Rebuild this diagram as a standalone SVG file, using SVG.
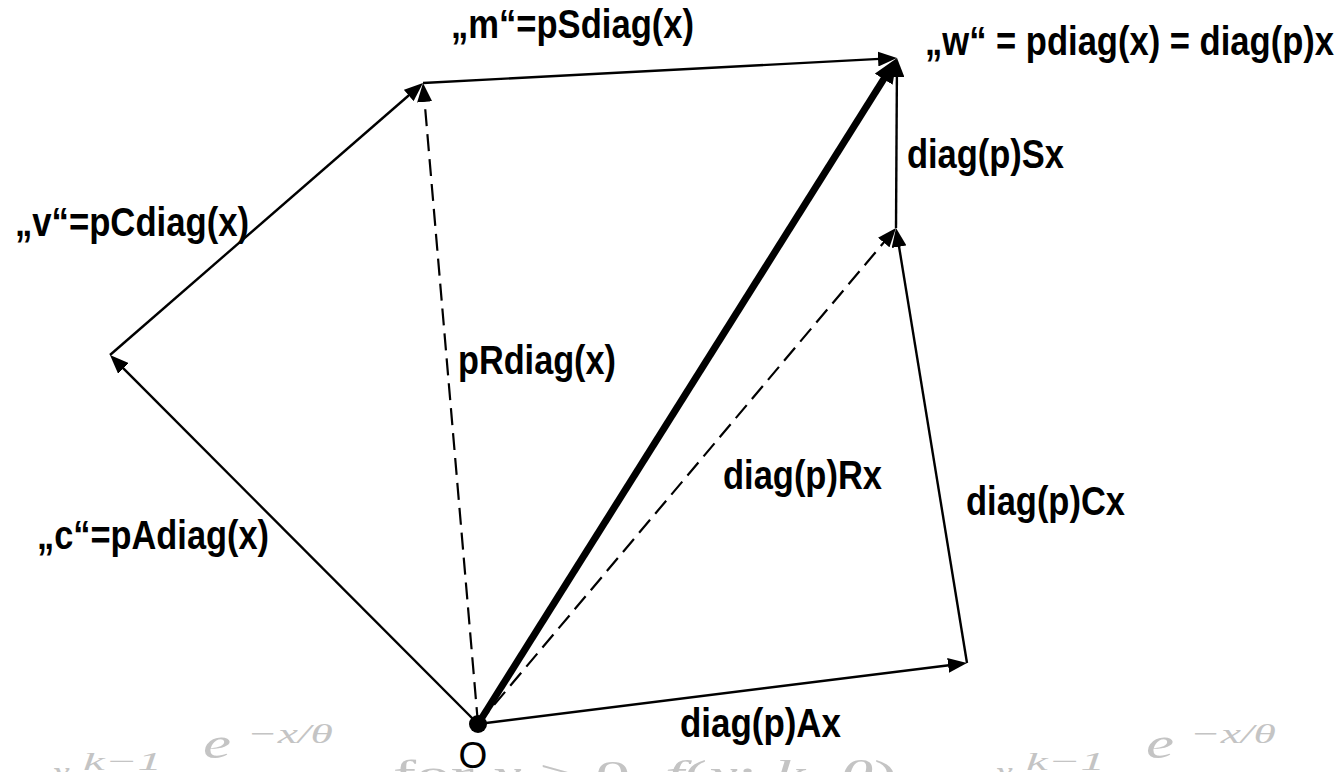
<svg xmlns="http://www.w3.org/2000/svg" width="1341" height="772" viewBox="0 0 1341 772">
<style>
.lbl{font-family:"Liberation Sans Narrow","Liberation Sans","Arial",sans-serif;font-size:41px;font-weight:bold;fill:#000}
.lblO{font-family:"Liberation Sans","Arial",sans-serif;font-size:37px;font-weight:normal;fill:#000}
.ln{stroke:#000;stroke-width:2.4;fill:none}
.dash{stroke:#000;stroke-width:2.2;fill:none;stroke-dasharray:17 8}
.thick{stroke:#000;stroke-width:7;fill:none}
.ghost{font-family:"Liberation Serif","Times New Roman",serif;fill:#c4c4c4}
.it{font-style:italic}
</style>
<defs>
<marker id="ah" viewBox="0 0 19 15" refX="11" refY="7.5" markerWidth="19" markerHeight="15" markerUnits="userSpaceOnUse" orient="auto"><path d="M0,0 L19,7.5 L0,15 z" fill="#000"/></marker>
<marker id="ahT" viewBox="0 0 25 21" refX="13" refY="10.5" markerWidth="25" markerHeight="21" markerUnits="userSpaceOnUse" orient="auto"><path d="M0,0 L25,10.5 L0,21 z" fill="#000"/></marker>
</defs>
<rect width="1341" height="772" fill="#fff"/>
<g id="ghost">
<text class="ghost it" x="52" y="787" font-size="40">x</text>
<text class="ghost it" x="83" y="770" font-size="26" textLength="79" lengthAdjust="spacingAndGlyphs">k−1</text>
<text class="ghost it" x="203" y="758" font-size="44" textLength="28" lengthAdjust="spacingAndGlyphs">e</text>
<text class="ghost it" x="247" y="743" font-size="28" textLength="86" lengthAdjust="spacingAndGlyphs">−x/θ</text>
<text class="ghost" x="393" y="788" font-size="40" textLength="504" lengthAdjust="spacingAndGlyphs">for <tspan class="it">x</tspan> &gt; 0, <tspan class="it">f</tspan>(<tspan class="it">x</tspan>; <tspan class="it">k</tspan>, <tspan class="it">θ</tspan>)</text>
<text class="ghost it" x="995" y="787" font-size="40">x</text>
<text class="ghost it" x="1026" y="770" font-size="26" textLength="79" lengthAdjust="spacingAndGlyphs">k−1</text>
<text class="ghost it" x="1146" y="758" font-size="44" textLength="28" lengthAdjust="spacingAndGlyphs">e</text>
<text class="ghost it" x="1190" y="743" font-size="28" textLength="86" lengthAdjust="spacingAndGlyphs">−x/θ</text>
</g>
<g id="connectors">
<line class="ln" x1="478" y1="724" x2="959.06" y2="663.99" marker-end="url(#ah)"/>
<line class="ln" x1="478" y1="724" x2="115.65" y2="360.66" marker-end="url(#ah)"/>
<line class="ln" x1="110" y1="355" x2="416.96" y2="88.25" marker-end="url(#ah)"/>
<line class="ln" x1="423" y1="83" x2="889.01" y2="58.42" marker-end="url(#ah)"/>
<line class="ln" x1="967" y1="663" x2="897.29" y2="235.9" marker-end="url(#ah)"/>
<line class="ln" x1="896" y1="228" x2="896.95" y2="66" marker-end="url(#ah)"/>
<line class="dash" x1="478" y1="724" x2="423.68" y2="90.97" marker-end="url(#ah)"/>
<line class="dash" x1="478" y1="724" x2="890.84" y2="234.12" marker-end="url(#ah)"/>
<line class="thick" x1="478" y1="724" x2="890.61" y2="68.16" marker-end="url(#ahT)"/>
</g>
<g id="node-O"><circle cx="478" cy="724" r="9" fill="#000"/><text class="lblO" x="473" y="768" text-anchor="middle">O</text></g>
<g id="node-m"><text class="lbl" x="451" y="38" textLength="243" lengthAdjust="spacingAndGlyphs">„m“=pSdiag(x)</text></g>
<g id="node-w"><text class="lbl" x="925" y="55" textLength="409" lengthAdjust="spacingAndGlyphs">„w“ = pdiag(x) = diag(p)x</text></g>
<g id="node-Sx"><text class="lbl" x="907" y="168" textLength="157" lengthAdjust="spacingAndGlyphs">diag(p)Sx</text></g>
<g id="node-v"><text class="lbl" x="15" y="236" textLength="234" lengthAdjust="spacingAndGlyphs">„v“=pCdiag(x)</text></g>
<g id="node-pR"><text class="lbl" x="458" y="374" textLength="158" lengthAdjust="spacingAndGlyphs">pRdiag(x)</text></g>
<g id="node-Rx"><text class="lbl" x="723" y="489" textLength="159" lengthAdjust="spacingAndGlyphs">diag(p)Rx</text></g>
<g id="node-Cx"><text class="lbl" x="966" y="515" textLength="159" lengthAdjust="spacingAndGlyphs">diag(p)Cx</text></g>
<g id="node-c"><text class="lbl" x="37" y="549" textLength="232" lengthAdjust="spacingAndGlyphs">„c“=pAdiag(x)</text></g>
<g id="node-Ax"><text class="lbl" x="680" y="737" textLength="161" lengthAdjust="spacingAndGlyphs">diag(p)Ax</text></g>
</svg>
